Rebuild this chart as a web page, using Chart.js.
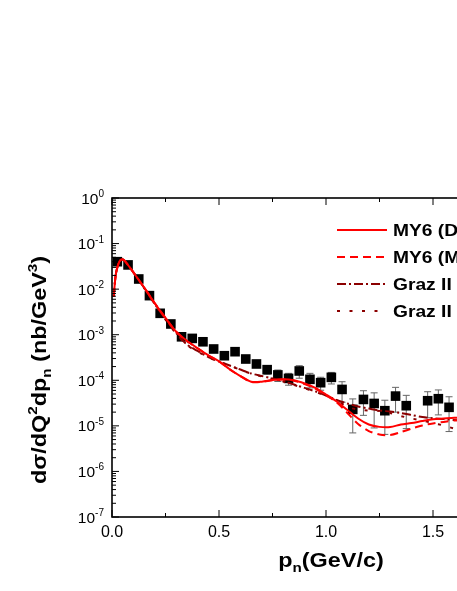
<!DOCTYPE html>
<html>
<head>
<meta charset="utf-8">
<script src="https://cdn.jsdelivr.net/npm/chart.js@4.4.0/dist/chart.umd.min.js"></script>
<style>
  html, body { margin: 0; padding: 0; overflow: hidden; background: #fff; }
  #wrap { width: 560px; height: 591px; }
</style>
</head>
<body>
<div id="wrap"><canvas id="chart" width="560" height="591"></canvas></div>
<script>
// measured points (black squares)
const dataX = [0.025, 0.075, 0.125, 0.175, 0.225, 0.275, 0.325, 0.375, 0.425, 0.475,
  0.525, 0.575, 0.625, 0.675, 0.725, 0.775, 0.825, 0.875, 0.925, 0.975,
  1.025, 1.075, 1.125, 1.175, 1.225, 1.275, 1.325, 1.375, 1.475, 1.525, 1.575];
const dataY = [0.040, 0.034, 0.0167, 0.0072, 0.00295, 0.00172, 0.00090, 0.00083, 0.00070, 4.86e-4,
  3.46e-4, 4.24e-4, 2.93e-4, 2.28e-4, 1.71e-4, 1.31e-4, 1.10e-4, 1.60e-4, 1.05e-4, 8.85e-5,
  1.16e-4, 6.3e-5, 2.3e-5, 3.8e-5, 3.1e-5, 2.15e-5, 4.5e-5, 2.77e-5, 3.56e-5, 3.94e-5, 2.55e-5];
const dataErr = [0.002, 0.0017, 0.0008, 0.0003, 0.0001, 0.00007, 0.00004, 0.00004, 0.00003, 2.5e-5,
  2e-5, 2.5e-5, 2e-5, 3e-5, 3.5e-5, 3.7e-5, 3.2e-5, 4.9e-5, 3.7e-5, 2.8e-5,
  3.3e-5, 3.0e-5, 1.6e-5, 2.1e-5, 2.2e-5, 1.5e-5, 2.5e-5, 1.9e-5, 2.05e-5, 2.2e-5, 1.8e-5];

// model curves
const curveX = [0.008, 0.015, 0.02, 0.03, 0.04, 0.05, 0.06, 0.08, 0.1, 0.15, 0.2, 0.25, 0.3, 0.35, 0.4,
  0.45, 0.5, 0.55, 0.6, 0.65, 0.7, 0.75, 0.8, 0.85, 0.9, 0.95, 1.0, 1.05, 1.1, 1.15, 1.2, 1.25,
  1.3, 1.35, 1.4, 1.45, 1.5, 1.55, 1.6, 1.65];
const my6Solid = [0.0068, 0.0165, 0.024, 0.036, 0.0436, 0.0445, 0.0415, 0.0314, 0.0233, 0.0109, 0.00489, 0.00233, 0.00116, 7.35e-4, 5.04e-4,
  3.53e-4, 2.62e-4, 1.75e-4, 1.24e-4, 9.3e-5, 9.3e-5, 1.01e-4, 1.05e-4, 1.0e-4, 8.5e-5, 6.8e-5, 4.88e-5, 3.42e-5, 2.23e-5, 1.45e-5, 1.07e-5, 9.5e-6,
  9.4e-6, 1.07e-5, 1.15e-5, 1.28e-5, 1.40e-5, 1.45e-5, 1.50e-5, 1.52e-5];
const my6Dashed = [0.0068, 0.0165, 0.024, 0.036, 0.0436, 0.0445, 0.0415, 0.0314, 0.0233, 0.0109, 0.00489, 0.00233, 0.00116, 7.3e-4, 5.0e-4,
  3.5e-4, 2.6e-4, 1.74e-4, 1.23e-4, 9.2e-5, 9.2e-5, 1.0e-4, 1.04e-4, 9.8e-5, 8.3e-5, 6.6e-5, 4.7e-5, 3.26e-5, 1.91e-5, 1.10e-5, 7.7e-6, 6.45e-6,
  6.3e-6, 7.3e-6, 8.7e-6, 1.02e-5, 1.13e-5, 1.22e-5, 1.31e-5, 1.35e-5];
const grazDashDot = [0.0068, 0.0165, 0.024, 0.036, 0.0436, 0.0445, 0.0415, 0.0314, 0.0233, 0.0107, 0.0047, 0.0022, 0.00109, 6.1e-4, 4.4e-4,
  3.24e-4, 2.58e-4, 2.11e-4, 1.72e-4, 1.41e-4, 1.24e-4, 1.09e-4, 9.6e-5, 8.1e-5, 6.8e-5, 5.7e-5, 4.64e-5, 3.69e-5, 3.09e-5, 2.66e-5, 2.40e-5, 2.17e-5,
  2.06e-5, 1.91e-5, 1.73e-5, 1.56e-5, 1.47e-5, 1.41e-5, 1.34e-5, 1.3e-5];
const grazDotted = [0.0068, 0.0165, 0.024, 0.036, 0.0436, 0.0445, 0.0415, 0.0314, 0.0233, 0.0106, 0.0046, 0.00215, 0.00105, 5.9e-4, 4.3e-4,
  3.2e-4, 2.55e-4, 2.08e-4, 1.70e-4, 1.40e-4, 1.22e-4, 1.07e-4, 9.4e-5, 7.9e-5, 6.7e-5, 5.6e-5, 4.55e-5, 3.6e-5, 2.6e-5, 2.29e-5, 2.17e-5, 2.12e-5,
  1.91e-5, 1.64e-5, 1.45e-5, 1.31e-5, 1.14e-5, 1.02e-5, 8.7e-6, 8.0e-6];

const seriesLabels = ['MY6 (DWIA)', 'MY6 (MEC)', 'Graz II (DWIA)', 'Graz II (MEC)'];
const xTickValues = [0, 0.5, 1.0, 1.5, 2.0];
const xTickLabels = ['0.0', '0.5', '1.0', '1.5', '2.0'];
const yTickExponents = [0, -1, -2, -3, -4, -5, -6, -7];

const FONT = '"Liberation Sans", Arial, sans-serif';

function pts(xs, ys) {
  return xs.map((x, i) => ({ x: x, y: ys[i] }));
}

const lineStyle = (data, color, dash, label) => ({
  label: label,
  data: data,
  showLine: true,
  borderColor: color,
  backgroundColor: color,
  borderWidth: 2,
  borderDash: dash,
  pointRadius: 0,
  tension: 0.3
});

const decorations = {
  id: 'decorations',
  beforeDatasetsDraw(chart) {
    // error bars under the squares
    const { ctx, scales: { x, y } } = chart;
    ctx.save();
    ctx.strokeStyle = '#666';
    ctx.lineWidth = 1;
    dataX.forEach((v, i) => {
      const px = x.getPixelForValue(v);
      const top = y.getPixelForValue(dataY[i] + dataErr[i]);
      const bot = y.getPixelForValue(Math.max(dataY[i] - dataErr[i], 1e-7));
      ctx.beginPath();
      ctx.moveTo(px, top); ctx.lineTo(px, bot);
      ctx.moveTo(px - 3.5, top); ctx.lineTo(px + 3.5, top);
      ctx.moveTo(px - 3.5, bot); ctx.lineTo(px + 3.5, bot);
      ctx.stroke();
    });
    ctx.restore();
  },
  afterDraw(chart) {
    const { ctx, chartArea: a, scales: { x, y } } = chart;
    ctx.save();
    ctx.strokeStyle = '#000';
    ctx.lineWidth = 1.6;
    ctx.strokeRect(a.left, a.top, a.right - a.left, a.bottom - a.top);

    // inward ticks
    ctx.lineWidth = 1;
    ctx.beginPath();
    for (let v = 0; v <= 2.0001; v += 0.25) {
      const px = x.getPixelForValue(v);
      const len = Math.abs(v / 0.5 - Math.round(v / 0.5)) < 1e-6 ? 7 : 4;
      ctx.moveTo(px, a.bottom); ctx.lineTo(px, a.bottom - len);
      ctx.moveTo(px, a.top); ctx.lineTo(px, a.top + len);
    }
    for (let e = -7; e <= 0; e++) {
      for (let k = 1; k <= 9; k++) {
        if (e === 0 && k > 1) break;
        const py = y.getPixelForValue(k * Math.pow(10, e));
        const len = k === 1 ? 7 : 4;
        ctx.moveTo(a.left, py); ctx.lineTo(a.left + len, py);
        ctx.moveTo(a.right, py); ctx.lineTo(a.right - len, py);
      }
    }
    ctx.stroke();

    // tick labels
    ctx.fillStyle = '#000';
    ctx.textBaseline = 'alphabetic';
    ctx.font = '16px ' + FONT;
    ctx.textAlign = 'center';
    xTickValues.forEach((v, i) => {
      ctx.fillText(xTickLabels[i], x.getPixelForValue(v), a.bottom + 20);
    });
    yTickExponents.forEach(e => {
      const py = y.getPixelForValue(Math.pow(10, e));
      ctx.font = '10px ' + FONT;
      ctx.textAlign = 'right';
      const exp = String(e);
      const ew = ctx.measureText(exp).width;
      ctx.fillText(exp, a.left - 8, py - 1);
      ctx.font = '15.5px ' + FONT;
      ctx.fillText('10', a.left - 8 - ew, py + 5.5);
    });

    // axis titles
    const big = 'bold 20px ' + FONT;
    const small = 'bold 13px ' + FONT;
    const drawRich = (parts, stretch) => {
      let w = 0;
      parts.forEach(p => { ctx.font = p[1] ? small : big; w += ctx.measureText(p[0]).width; });
      ctx.scale(stretch, 1);
      let cx = -w / 2;
      ctx.textAlign = 'left';
      parts.forEach(p => {
        ctx.font = p[1] ? small : big;
        const dy = p[1] === 'sup' ? -9 : p[1] === 'sub' ? 5 : 0;
        ctx.fillText(p[0], cx, dy);
        cx += ctx.measureText(p[0]).width;
      });
    };
    ctx.save();
    ctx.translate((a.left + a.right) / 2 + 5, a.bottom + 50);
    drawRich([['p'], ['n', 'sub'], ['(GeV/c)']], 1.17);
    ctx.restore();

    ctx.save();
    ctx.translate(46, 370);
    ctx.rotate(-Math.PI / 2);
    drawRich([['dσ/dQ'], ['2', 'sup'], ['dp'], ['n', 'sub'], [' (nb/GeV'], ['3', 'sup'], [')']], 1.17);
    ctx.restore();

    // legend
    chart.data.datasets.slice(0, 4).forEach((ds, i) => {
      const ly = a.top + 32 + i * 27;
      ctx.save();
      ctx.strokeStyle = ds.borderColor;
      ctx.lineWidth = 2;
      ctx.setLineDash(ds.borderDash || []);
      ctx.beginPath();
      ctx.moveTo(337, ly); ctx.lineTo(387, ly);
      ctx.stroke();
      ctx.restore();
      ctx.save();
      ctx.font = 'bold 17px ' + FONT;
      ctx.textAlign = 'left';
      ctx.fillStyle = '#000';
      ctx.translate(393, ly + 6);
      ctx.scale(1.13, 1);
      ctx.fillText(ds.label, 0, 0);
      ctx.restore();
    });
    ctx.restore();
  }
};

new Chart(document.getElementById('chart').getContext('2d'), {
  type: 'scatter',
  data: {
    datasets: [
      lineStyle(pts(curveX, my6Solid), '#ff0000', [], seriesLabels[0]),
      lineStyle(pts(curveX, my6Dashed), '#ff0000', [8, 5], seriesLabels[1]),
      lineStyle(pts(curveX, grazDashDot), '#8b0000', [9, 3, 2, 3], seriesLabels[2]),
      lineStyle(pts(curveX, grazDotted), '#8b0000', [3, 9.5], seriesLabels[3]),
      {
        label: 'data',
        data: pts(dataX, dataY),
        pointStyle: 'rect',
        pointRadius: 6.8,
        pointBorderWidth: 0,
        backgroundColor: '#000',
        borderColor: '#000',
        showLine: false
      }
    ]
  },
  options: {
    responsive: false,
    devicePixelRatio: 1,
    animation: false,
    layout: { padding: { left: 112, top: 198, right: 20, bottom: 74 } },
    plugins: {
      legend: { display: false },
      tooltip: { enabled: false }
    },
    scales: {
      x: {
        type: 'linear',
        min: 0,
        max: 2.0,
        grid: { display: false, drawTicks: false },
        border: { display: false },
        ticks: { display: false }
      },
      y: {
        type: 'logarithmic',
        min: 1e-7,
        max: 1,
        grid: { display: false, drawTicks: false },
        border: { display: false },
        ticks: { display: false }
      }
    }
  },
  plugins: [decorations]
});
</script>
</body>
</html>
